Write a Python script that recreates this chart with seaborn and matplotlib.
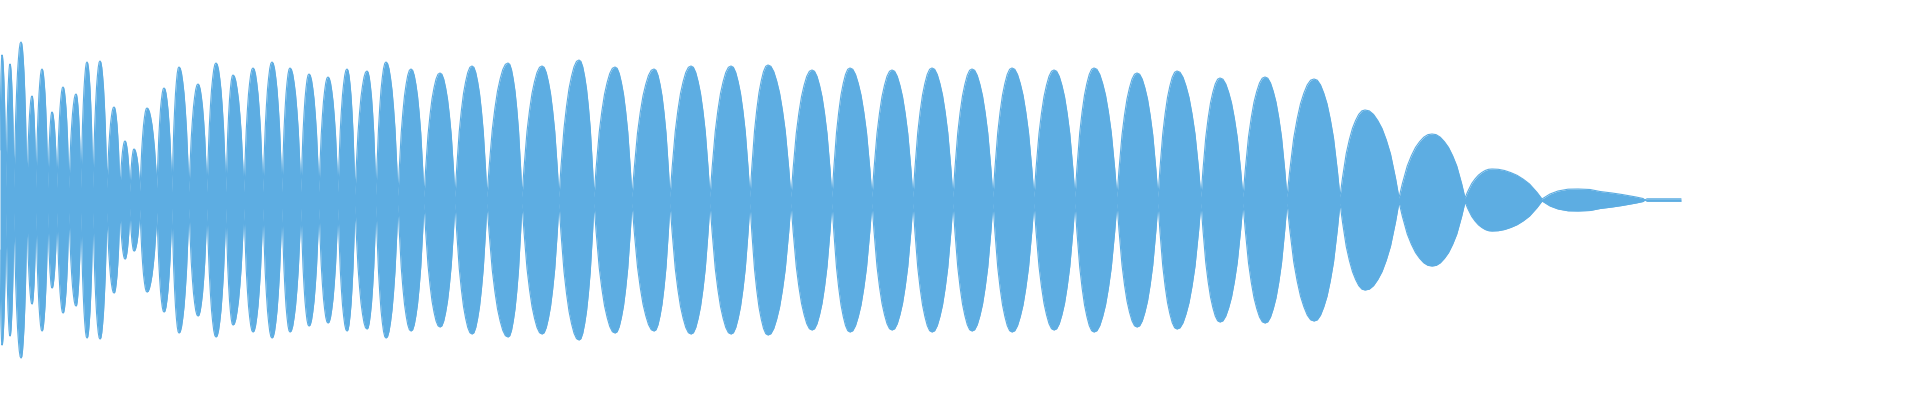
import numpy as np
import matplotlib
matplotlib.use("Agg")
import matplotlib.pyplot as plt
import seaborn as sns

# =============================
# DATA (x in pixel columns, amplitude in px)
# =============================

# zero crossings / valleys between lobes
LOBE_EDGES = [0, 6, 14, 27, 36, 48, 57, 69, 81, 93, 107, 120, 130, 140, 157,
              172, 189, 207, 226, 244, 263, 282, 301, 319,
              338, 355, 376, 398, 424, 455, 487, 522, 559, 594, 632, 670,
              710, 750, 791, 832, 872, 913, 953, 993, 1034, 1075, 1117,
              1158, 1201, 1243, 1287, 1340, 1399, 1465, 1542]

# amplitude left at each valley
EDGE_AMP = [50, 12, 12, 12, 12, 12, 12, 12, 12, 12, 12, 9, 8, 9, 12,
            8, 8, 8, 8, 8, 8, 8, 8, 8,
            8, 5, 5, 4, 3, 3, 3, 3, 3, 3, 3, 3,
            3, 3, 3, 3, 3, 3, 3, 3, 3, 3, 3,
            3, 3, 3, 3, 3, 2, 2, 1]

# position and height of each lobe's peak
PEAK_X = [2, 10, 21, 32, 42, 52, 63, 76, 87, 100, 114, 125, 134, 147,
          164, 179, 198, 216, 233, 253, 272, 290, 309,
          328, 347, 367, 386, 411, 440, 472, 508, 542, 579, 615, 654,
          691, 731, 768, 812, 850, 892, 932, 972, 1012, 1054, 1094,
          1137, 1177, 1220, 1265, 1314, 1365, 1432, 1492]

PEAK_AMP = [145, 136, 158, 104, 131, 88, 113, 106, 138, 139, 93, 59, 51, 92,
            112, 133, 116, 137, 125, 132, 138, 132, 126,
            123, 131, 129, 138, 131, 127, 134, 137, 134, 140, 133, 131,
            134, 134, 135, 130, 132, 130, 132, 131, 132, 130, 132,
            127, 129, 122, 123, 121, 90, 66, 31]

# fading tail after the last full lobe
TAIL_X = [1550, 1558, 1568, 1578, 1590, 1600, 1612, 1622, 1636, 1643, 1645, 1647, 1681]
TAIL_AMP = [6, 9, 10.8, 11, 10.5, 8.5, 7, 5.5, 3, 1.5, 0, 1.2, 1.2]

# rise of one lobe from valley to peak (fraction of the way / fraction of height)
SHAPE_POS = [0, 0.1, 0.25, 0.375, 0.5, 0.625, 0.75, 0.875, 1.0]
SHAPE_AMP = [0, 0.22, 0.5, 0.66, 0.79, 0.88, 0.95, 0.99, 1.0]

COLOR = "#5dade2"

# =============================
# ENVELOPE
# =============================

pos = np.array(SHAPE_POS)
shp = np.array(SHAPE_AMP)

xs = [LOBE_EDGES[0]]
ys = [EDGE_AMP[0]]

for i in range(len(PEAK_X)):
    e0, e1 = LOBE_EDGES[i], LOBE_EDGES[i + 1]
    n0, n1 = EDGE_AMP[i], EDGE_AMP[i + 1]
    p, a = PEAK_X[i], PEAK_AMP[i]

    # rising half
    xs.extend(e0 + pos[1:] * (p - e0))
    ys.extend(n0 + shp[1:] * (a - n0))

    # falling half
    xs.extend(e1 - pos[::-1][1:] * (e1 - p))
    ys.extend(n1 + shp[::-1][1:] * (a - n1))

xs.extend(TAIL_X)
ys.extend(TAIL_AMP)

xs = np.array(xs, dtype=float)
ys = np.array(ys, dtype=float)

# =============================
# PLOT
# =============================

sns.set_theme(style="white")

fig = plt.figure(figsize=(19.2, 4), dpi=100)
ax = fig.add_axes([0, 0, 1, 1])

ax.fill_between(xs, -ys, ys, color=COLOR, linewidth=0)

sns.lineplot(x=xs, y=ys, ax=ax, color=COLOR, linewidth=0.8, sort=False, estimator=None)
sns.lineplot(x=xs, y=-ys, ax=ax, color=COLOR, linewidth=0.8, sort=False, estimator=None)

ax.set_xlim(0, 1920)
ax.set_ylim(-200, 200)
ax.axis("off")

fig.savefig("out.png", dpi=100, facecolor="white")
